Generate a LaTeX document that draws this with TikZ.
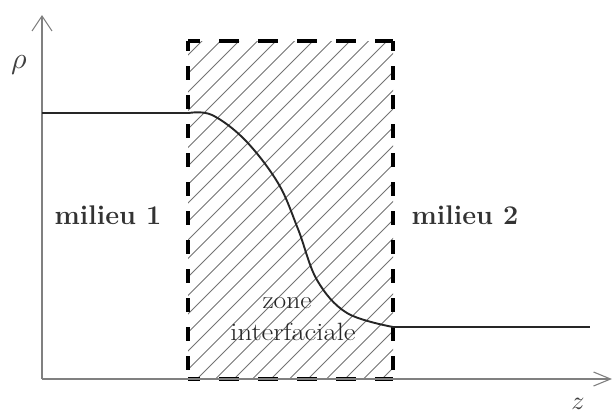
\documentclass[tikz,border=0pt]{standalone}
\usepackage{fontspec}
\usetikzlibrary{arrows.meta}
\tikzset{
  axis/.style={draw=black!50, line width=1.4pt, -{Straight Barb[length=15pt,width=20pt,line width=1.1pt]}},
  curve/.style={draw=black!85, line width=1.9pt},
  hatch/.style={draw=black!55, line width=1pt},
  hdash/.style={draw=black, line width=3.5pt, dash pattern=on 20pt off 19pt},
  vdash/.style={draw=black, line width=3.5pt, dash pattern=on 14pt off 15pt},
  lbl/.style={text=black!80, inner sep=0pt, font=\fontsize{27}{30}\selectfont\bfseries},
  zlbl/.style={text=black!75, inner sep=0pt},
  ilbl/.style={text=black!85, inner sep=0pt, font=\fontsize{25}{28}\selectfont},
}
\begin{document}
\begin{tikzpicture}[x=1pt,y=-1pt]
\useasboundingbox (0,0) rectangle (613,416);
% hatching
\begin{scope}
  \clip (188,41) rectangle (393,379);
  \foreach \k in {-1,...,30}{
    \pgfmathsetmacro{\c}{243+18.5*\k}
    \draw[hatch] (\c-420,420) -- (\c,0);
  }
\end{scope}
% box corners
\coordinate (bl) at (188,379);
\coordinate (tl) at (188,41);
\coordinate (tr) at (393,41);
\coordinate (br) at (393,379);
\draw[hdash, dash phase=8pt] (tl) -- (tr);
\draw[hdash, dash phase=8pt] (bl) -- (br);
\draw[vdash, dash phase=4pt] (tl) -- (bl);
\draw[vdash, dash phase=4pt] (tr) -- (br);
% axes
\coordinate (o) at (42,379);
\coordinate (ytip) at (42,15);
\coordinate (xtip) at (612,379);
\draw[axis] (o) -- (ytip);
\draw[axis, -{Straight Barb[length=17pt,width=14pt,line width=1.1pt]}] (o) -- (xtip);
% density profile
\coordinate (p0) at (42,113);
\coordinate (p1) at (189,113);
\coordinate (p2) at (393,327);
\coordinate (p3) at (590,327);
\draw[curve] (p0) -- (p1);
\draw[curve] plot[smooth, tension=0.6] coordinates {(189,113) (212,115) (245,140) (278,183) (298,229) (317,280) (347,313) (393,327)};
\draw[curve] (p2) -- (p3);
% labels
\node[zlbl] (rho) at (19,65) {\scalebox{3}{$\rho$}};
\node[zlbl] (z) at (578,404) {\scalebox{2.6}{$z$}};
\node[lbl] (m1) at (108,215) {milieu 1};
\node[lbl] (m2) at (465,215) {milieu 2};
\node[ilbl] (zone) at (287,303) {\scalebox{1.1}[1]{zone}};
\node[ilbl] (inter) at (293,332) {\scalebox{1.15}[1]{interfaciale}};
\end{tikzpicture}
\end{document}
